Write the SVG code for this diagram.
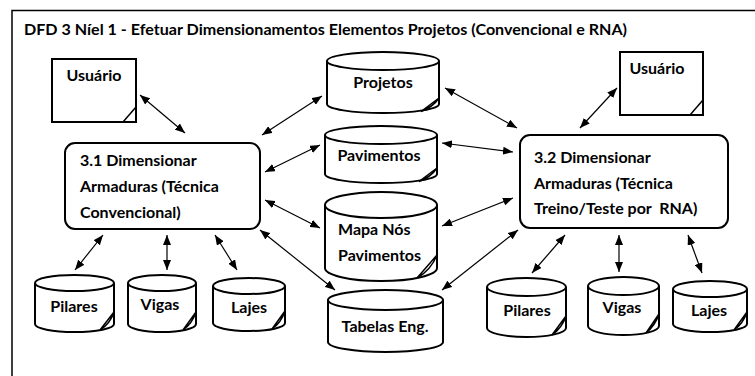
<svg xmlns="http://www.w3.org/2000/svg" width="755" height="376" viewBox="0 0 755 376">
<defs>
<style>
.t{font-family:Lato,"Liberation Sans",sans-serif;font-weight:bold;font-size:16px;fill:#000}
.ttl{font-family:Lato,"Liberation Sans",sans-serif;font-weight:bold;font-size:15px;fill:#000}
.s{fill:#fff;stroke:#000;stroke-width:2}
.e{fill:none;stroke:#000;stroke-width:1.5}
.c{stroke:#000;stroke-width:1.2;fill:none;marker-start:url(#a);marker-end:url(#a)}
</style>
<marker id="a" viewBox="0 0 10 8" refX="10" refY="4" markerWidth="10" markerHeight="8" markerUnits="userSpaceOnUse" orient="auto-start-reverse">
<path d="M0,0 L10,4 L0,8 z" fill="#000"/>
</marker>
</defs>
<rect width="755" height="376" fill="#fff"/>
<path d="M12,376 L12,10.5 L755,10.5" fill="none" stroke="#000" stroke-width="1.5"/>
<text class="ttl" x="24" y="35" textLength="603" lengthAdjust="spacingAndGlyphs">DFD 3 Níel 1 - Efetuar Dimensionamentos Elementos Projetos (Convencional e RNA)</text>

<g id="connectors">
<line class="c" x1="140" y1="95" x2="185" y2="133"/>
<line class="c" x1="262" y1="135" x2="322" y2="96"/>
<line class="c" x1="265" y1="172" x2="320" y2="145"/>
<line class="c" x1="265" y1="200" x2="320" y2="228"/>
<line class="c" x1="260" y1="230" x2="335" y2="290"/>
<line class="c" x1="103" y1="235" x2="75" y2="270"/>
<line class="c" x1="167" y1="235" x2="167" y2="270"/>
<line class="c" x1="215" y1="235" x2="237" y2="270"/>
<line class="c" x1="445" y1="88" x2="517" y2="128"/>
<line class="c" x1="442" y1="143" x2="513" y2="152"/>
<line class="c" x1="442" y1="226" x2="513" y2="198"/>
<line class="c" x1="442" y1="290" x2="518" y2="230"/>
<line class="c" x1="617" y1="88" x2="580" y2="128"/>
<line class="c" x1="565" y1="235" x2="532" y2="273"/>
<line class="c" x1="619" y1="235" x2="619" y2="272"/>
<line class="c" x1="688" y1="235" x2="702" y2="273"/>
</g>

<g id="usuario1">
<rect class="s" x="52" y="59" width="84" height="63"/>
<path class="e" d="M123,122 L136,107"/>
<text class="t" x="94" y="81" text-anchor="middle">Usuário</text>
</g>
<g id="usuario2">
<rect class="s" x="620" y="52" width="83" height="63"/>
<path class="e" d="M690,115 L703,100"/>
<text class="t" x="657" y="74" text-anchor="middle">Usuário</text>
</g>

<g id="p31">
<rect class="s" x="65" y="143" width="195" height="86" rx="10"/>
<text class="t" x="80" y="166">3.1 Dimensionar</text>
<text class="t" x="80" y="192">Armaduras (Técnica</text>
<text class="t" x="80" y="218">Convencional)</text>
</g>
<g id="p32">
<rect class="s" x="520" y="135" width="208" height="93" rx="10"/>
<text class="t" x="534" y="163">3.2 Dimensionar</text>
<text class="t" x="534" y="189">Armaduras (Técnica</text>
<text class="t" x="534" y="214" xml:space="preserve" style="white-space:pre">Treino/Teste por  RNA)</text>
</g>

<g id="projetos">
<path class="s" d="M327,61 L327,104 A56,9 0 0 0 439,104 L439,61"/>
<ellipse class="s" cx="383" cy="61" rx="56" ry="9"/>
<path class="e" d="M421,111.5 L439,98 M421,111.5 Q433,107 439,98"/>
<text class="t" x="383" y="88" text-anchor="middle">Projetos</text>
</g>
<g id="pavimentos">
<path class="s" d="M325,135 L325,174 A56,9 0 0 0 437,174 L437,135"/>
<ellipse class="s" cx="381" cy="135" rx="56" ry="9"/>
<path class="e" d="M419,181.5 L437,168 M419,181.5 Q431,177 437,168"/>
<text class="t" x="379" y="161" text-anchor="middle">Pavimentos</text>
</g>
<g id="mapa">
<path class="s" d="M325,205 L325,268 A56,13 0 0 0 437,268 L437,205"/>
<ellipse class="s" cx="381" cy="205" rx="56" ry="13"/>
<path class="e" d="M417,278 L437,255 M417,278 Q431,270 437,255"/>
<text class="t" x="338" y="235">Mapa Nós</text>
<text class="t" x="338" y="261">Pavimentos</text>
</g>
<g id="tabelas">
<path class="s" d="M328,300 L328,342 A57.5,10 0 0 0 443,342 L443,300"/>
<ellipse class="s" cx="385.5" cy="300" rx="57.5" ry="10"/>
<text class="t" x="385" y="332" text-anchor="middle">Tabelas Eng.</text>
</g>

<g id="pilares1">
<path class="s" d="M35,283 L35,324 A39.5,8 0 0 0 114,324 L114,283"/>
<ellipse class="s" cx="74.5" cy="283" rx="39.5" ry="8"/>
<path class="e" d="M100,330 L114,312 M100,330 Q110,324 114,312"/>
<text class="t" x="74" y="312" text-anchor="middle">Pilares</text>
</g>
<g id="vigas1">
<path class="s" d="M128,283 L128,324 A34,8 0 0 0 196,324 L196,283"/>
<ellipse class="s" cx="162" cy="283" rx="34" ry="8"/>
<path class="e" d="M183,330 L196,312 M183,330 Q192,324 196,312"/>
<text class="t" x="160" y="310" text-anchor="middle">Vigas</text>
</g>
<g id="lajes1">
<path class="s" d="M213,286 L213,323 A36,8 0 0 0 285,323 L285,286"/>
<ellipse class="s" cx="249" cy="286" rx="36" ry="8"/>
<path class="e" d="M272,329 L285,311 M272,329 Q281,323 285,311"/>
<text class="t" x="249" y="313" text-anchor="middle">Lajes</text>
</g>

<g id="pilares2">
<path class="s" d="M487,287 L487,328 A39.5,9 0 0 0 566,328 L566,287"/>
<ellipse class="s" cx="526.5" cy="287" rx="39.5" ry="9"/>
<path class="e" d="M552,335 L566,316 M552,335 Q562,328 566,316"/>
<text class="t" x="527" y="316" text-anchor="middle">Pilares</text>
</g>
<g id="vigas2">
<path class="s" d="M588,286 L588,326 A35.5,9 0 0 0 659,326 L659,286"/>
<ellipse class="s" cx="623.5" cy="286" rx="35.5" ry="9"/>
<path class="e" d="M646,333 L659,314 M646,333 Q655,326 659,314"/>
<text class="t" x="622" y="313" text-anchor="middle">Vigas</text>
</g>
<g id="lajes2">
<path class="s" d="M673,289 L673,324 A37,8 0 0 0 747,324 L747,289"/>
<ellipse class="s" cx="710" cy="289" rx="37" ry="8"/>
<path class="e" d="M734,330 L747,312 M734,330 Q743,324 747,312"/>
<text class="t" x="709" y="316" text-anchor="middle">Lajes</text>
</g>
</svg>
